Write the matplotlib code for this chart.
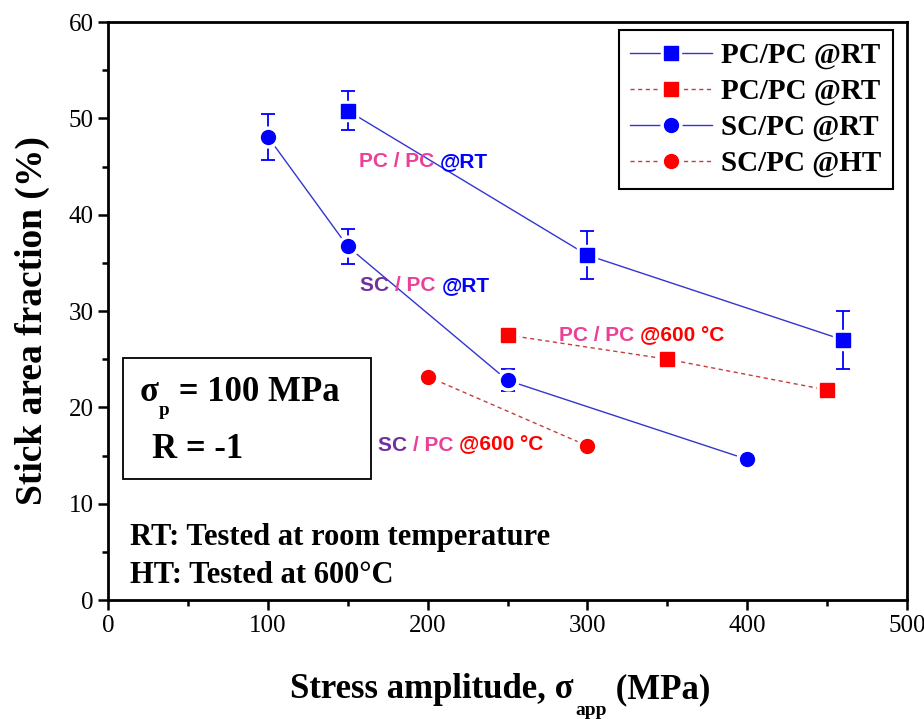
import matplotlib
matplotlib.use("Agg")
import matplotlib.pyplot as plt
from matplotlib.patches import Rectangle
from matplotlib.ticker import MultipleLocator

# data
pc_rt_x = [150, 300, 460]
pc_rt_y = [50.8, 35.8, 27.0]
pc_rt_err = [2.0, 2.5, 3.0]

sc_rt_x = [100, 150, 250, 400]
sc_rt_y = [48.1, 36.7, 22.8, 14.6]
sc_rt_err = [2.4, 1.8, 1.15, 0.6]

pc_ht_x = [250, 350, 450]
pc_ht_y = [27.5, 25.0, 21.8]

sc_ht_x = [200, 300]
sc_ht_y = [23.2, 16.0]

labels = ["PC/PC @RT", "PC/PC @RT", "SC/PC @RT", "SC/PC @HT"]

BLUE = "#0000ff"
BLUE_LINE = "#3434d0"
RED = "#ff0000"
RED_LINE = "#c83c3c"
PINK = "#ec3f98"
PURPLE = "#7030a0"

plt.rcParams['font.family'] = 'Liberation Serif'

fig = plt.figure(figsize=(9.24, 7.19), dpi=100)
ax = fig.add_axes([0.1169, 0.1655, 0.8647, 0.8039])


def series(x, y, err, color, lcolor, marker, ls):
    ax.plot(x, y, color=lcolor, lw=1.0, ls=ls, zorder=2)
    if err is not None:
        ax.errorbar(x, y, yerr=err, fmt='none', ecolor=color, elinewidth=1.3,
                    capsize=5, capthick=1.3, zorder=3)
    halo, = ax.plot(x, y, ls='none', marker=marker, ms=15, mfc='white',
                    mec='white', zorder=4)
    m, = ax.plot(x, y, ls='none', marker=marker, ms=10, mfc=color,
                 mec=color, zorder=5)
    ln, = ax.plot([], [], color=lcolor, lw=1.0, ls=ls)
    return (ln, halo, m)


dash = (0, (3, 2.5))
h1 = series(pc_rt_x, pc_rt_y, pc_rt_err, BLUE, BLUE_LINE, 's', '-')
h2 = series(pc_ht_x, pc_ht_y, None, RED, RED_LINE, 's', dash)
h3 = series(sc_rt_x, sc_rt_y, sc_rt_err, BLUE, BLUE_LINE, 'o', '-')
h4 = series(sc_ht_x, sc_ht_y, None, RED, RED_LINE, 'o', dash)

ax.set_xlim(0, 500)
ax.set_ylim(0, 60)
ax.xaxis.set_major_locator(MultipleLocator(100))
ax.xaxis.set_minor_locator(MultipleLocator(50))
ax.yaxis.set_major_locator(MultipleLocator(10))
ax.yaxis.set_minor_locator(MultipleLocator(5))
ax.tick_params(which='both', direction='out', width=1.8, labelsize=18)
ax.tick_params(which='major', length=7)
ax.tick_params(which='minor', length=4)
for s in ax.spines.values():
    s.set_linewidth(2)

ax.set_ylabel("Stick area fraction (%)", fontsize=27, fontweight='bold')
ax.yaxis.set_label_coords(-0.073, 0.484)

leg = ax.legend([h1, h2, h3, h4], labels, loc='upper right',
                bbox_to_anchor=(0.982, 0.986), borderaxespad=0,
                prop={'size': 21, 'weight': 'bold'}, handlelength=2.8,
                handletextpad=0.3, labelspacing=0.3, fancybox=False,
                edgecolor='black', framealpha=1, borderpad=0.4)
leg.get_frame().set_linewidth(1.5)


def chain(x, y, pieces, transform, size, weight='bold', family=None):
    # pieces: (text, color, dy in points, size scale)
    s, c, dy, k = pieces[0]
    t = ax.text(x, y, s, color=c, transform=transform, fontsize=size * k,
                fontweight=weight, family=family, va='bottom', zorder=6)
    for s, c, dy, k in pieces[1:]:
        t = ax.annotate(s, xy=(1, 0), xycoords=t, xytext=(0, dy),
                        textcoords='offset points', color=c,
                        fontsize=size * k, fontweight=weight, family=family,
                        va='bottom', zorder=6)
    return t


sans = 'Liberation Sans'
chain(157, 44.5, [("PC / PC ", PINK, 0, 1), ("@RT", BLUE, 0, 1)],
      ax.transData, 15, family=sans)
chain(158, 31.7, [("SC ", PURPLE, 0, 1), ("/ PC ", PINK, 0, 1),
                  ("@RT", BLUE, 0, 1)], ax.transData, 15, family=sans)
chain(282, 26.5, [("PC / PC ", PINK, 0, 1), ("@600 °C", RED, 0, 1)],
      ax.transData, 15, family=sans)
chain(169, 15.1, [("SC ", PURPLE, 0, 1), ("/ PC ", PINK, 0, 1),
                  ("@600 °C", RED, 0, 1)], ax.transData, 15, family=sans)

# parameter box
ax.add_patch(Rectangle((0.0188, 0.209), 0.310, 0.210, transform=ax.transAxes,
                       fill=False, edgecolor='black', lw=1.3, zorder=6))
chain(0.040, 0.330, [("σ", 'black', 0, 1), ("p", 'black', -7, 0.55),
                     (" = 100 MPa", 'black', 7, 1)], ax.transAxes, 25)
chain(0.055, 0.232, [("R = -1", 'black', 0, 1)], ax.transAxes, 25)

ax.text(0.028, 0.109, "RT: Tested at room temperature", transform=ax.transAxes,
        fontsize=22, fontweight='bold', va='center')
ax.text(0.028, 0.042, "HT: Tested at 600°C", transform=ax.transAxes,
        fontsize=22, fontweight='bold', va='center')

# x label with subscript
t = fig.text(0.314, 0.018, "Stress amplitude, σ", fontsize=25,
             fontweight='bold', va='bottom')
sub = ax.annotate("app", xy=(1, 0), xycoords=t, xytext=(1, -9),
                  textcoords='offset points', fontsize=14, fontweight='bold',
                  va='bottom')
ax.annotate(" (MPa)", xy=(1, 0), xycoords=sub, xytext=(0, 9),
            textcoords='offset points', fontsize=25, fontweight='bold',
            va='bottom')

fig.savefig("out.png", dpi=100)
